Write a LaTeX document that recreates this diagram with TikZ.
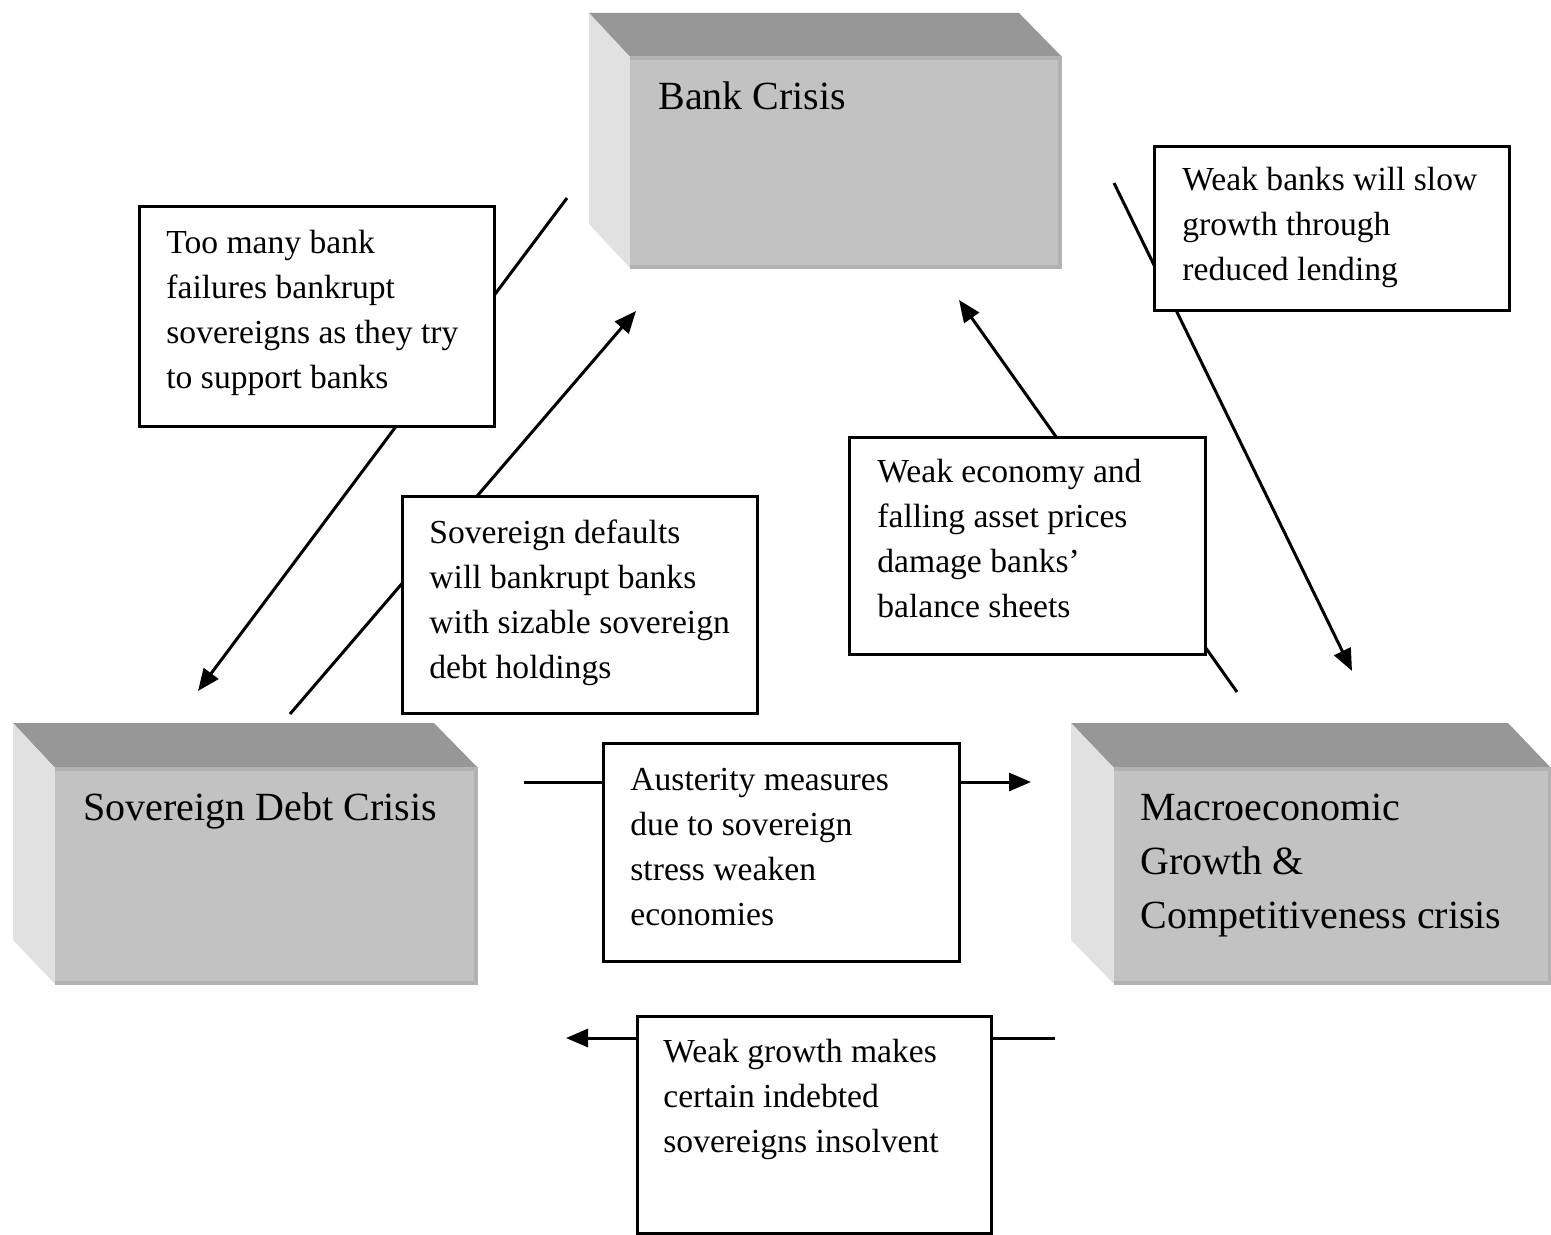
\documentclass[tikz,border=0pt]{standalone}
\usepackage{fontspec}
\setmainfont{Liberation Serif}
\usetikzlibrary{arrows.meta}
\definecolor{topc}{HTML}{979797}
\definecolor{leftc}{HTML}{E1E1E1}
\definecolor{frontc}{HTML}{C2C2C2}
\definecolor{bandc}{HTML}{B2B2B2}
\tikzset{
  tbox/.style={draw=black, line width=1.5pt, fill=white, inner sep=0pt},
  txt/.style={inner sep=0pt, anchor=base west, align=left, font=\fontsize{16.8}{22.5}\selectfont},
  bigtxt/.style={inner sep=0pt, anchor=base west, align=left, font=\fontsize{20}{27}\selectfont},
  conn/.style={line width=1.5pt, draw=black},
  arr/.style={conn, -{Triangle[length=11pt,width=9pt]}},
  topface/.style={fill=topc, draw=none},
  leftface/.style={fill=leftc, draw=none},
  frontface/.style={fill=frontc, draw=none},
  band/.style={draw=bandc, line width=2pt}
}
\begin{document}
\begin{tikzpicture}[x=0.5pt, y=-0.5pt]
\useasboundingbox (0,0) rectangle (1551,1235);
\fill[white] (0,0) rectangle (1551,1235);

% ---- 3D boxes ----
% Bank crisis
\fill[topface] (589,13) -- (1019,13) -- (1062,57) -- (630,57) -- cycle;
\fill[leftface] (589,13) -- (630,57) -- (630,268) -- (589,224) -- cycle;
\node[frontface, minimum width=216pt, minimum height=106pt, inner sep=0pt] (bank) at (846,163) {};
\draw[band] (630,58) -- (1060,58) -- (1060,267) -- (630,267);
\node[bigtxt] (banktxt) at (658,110) {Bank Crisis};

% Sovereign debt crisis
\fill[topface] (13,723) -- (434,723) -- (478,768) -- (55,768) -- cycle;
\fill[leftface] (13,723) -- (55,768) -- (55,984) -- (13,940) -- cycle;
\node[frontface, minimum width=211.5pt, minimum height=108.5pt, inner sep=0pt] (sov) at (266.5,876.5) {};
\draw[band] (55,769) -- (476,769) -- (476,983) -- (55,983);
\node[bigtxt] (sovtxt) at (83,820) {Sovereign Debt Crisis};

% Macroeconomic crisis
\fill[topface] (1071,723) -- (1508,723) -- (1551,768) -- (1114,768) -- cycle;
\fill[leftface] (1071,723) -- (1114,768) -- (1114,984) -- (1071,940) -- cycle;
\node[frontface, minimum width=218.5pt, minimum height=108.5pt, inner sep=0pt] (mac) at (1332.5,876.5) {};
\draw[band] (1114,769) -- (1550,769) -- (1550,983) -- (1114,983);
\node[bigtxt] (mactxt) at (1140,928) {Macroeconomic\\Growth \&\\Competitiveness crisis};

% ---- connectors (behind text boxes) ----
\coordinate (a1s) at (567,198);  \coordinate (a1e) at (198,691);
\coordinate (a2s) at (290,714);  \coordinate (a2e) at (636,311);
\coordinate (a3s) at (1237,692); \coordinate (a3e) at (959,300);
\coordinate (a4s) at (1114,183); \coordinate (a4e) at (1352,671);
\coordinate (a5s) at (524,782);  \coordinate (a5e) at (1031,782);
\coordinate (a6s) at (1055,1038); \coordinate (a6e) at (566,1038);
\draw[arr] (a1s) -- (a1e);
\draw[arr] (a2s) -- (a2e);
\draw[arr] (a3s) -- (a3e);
\draw[arr] (a4s) -- (a4e);
\draw[arr] (a5s) -- (a5e);
\draw[arr] (a6s) -- (a6e);

% ---- text boxes (text anchored at last baseline) ----
\node[tbox, minimum width=177.5pt, minimum height=109.5pt] (b1) at (316.5,316.5) {};
\node[txt] (t1) at (166,388) {Too many bank\\failures bankrupt\\sovereigns as they try\\to support banks};

\node[tbox, minimum width=177.5pt, minimum height=108.5pt] (b2) at (579.5,605) {};
\node[txt] (t2) at (429,678) {Sovereign defaults\\will bankrupt banks\\with sizable sovereign\\debt holdings};

\node[tbox, minimum width=178pt, minimum height=108.5pt] (b3) at (1027,546) {};
\node[txt] (t3) at (877,617) {Weak economy and\\falling asset prices\\damage banks’\\balance sheets};

\node[tbox, minimum width=177.5pt, minimum height=82pt] (b4) at (1332,228.5) {};
\node[txt] (t4) at (1182,281) {Weak banks will slow\\growth through\\reduced lending};

\node[tbox, minimum width=178pt, minimum height=109pt] (b5) at (781,852) {};
\node[txt] (t5) at (630,925) {Austerity measures\\due to sovereign\\stress weaken\\economies};

\node[tbox, minimum width=177pt, minimum height=108.5pt] (b6) at (814,1124.5) {};
\node[txt] (t6) at (663,1152) {Weak growth makes\\certain indebted\\sovereigns insolvent};
\end{tikzpicture}
\end{document}
